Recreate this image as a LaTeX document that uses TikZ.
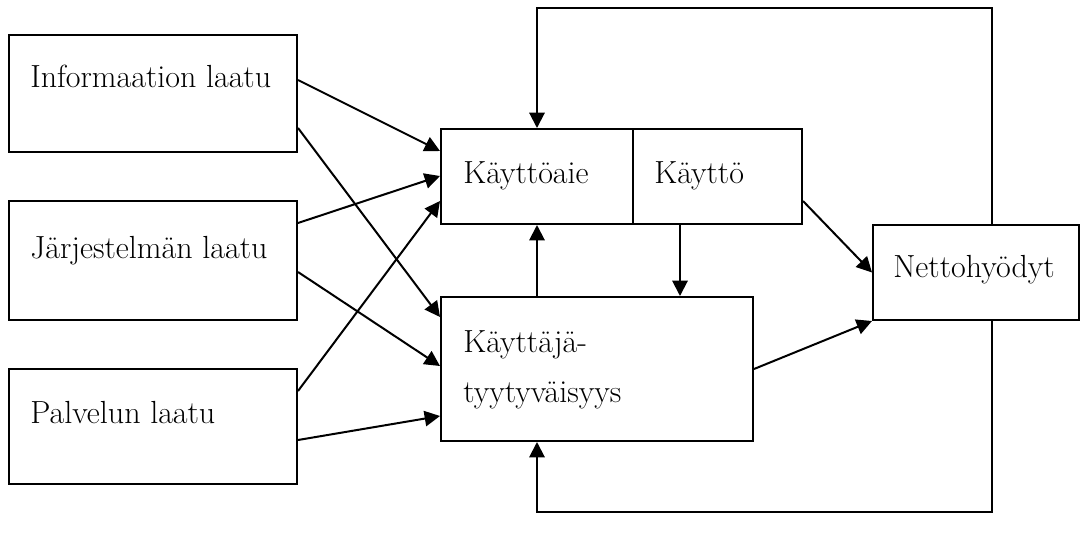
\documentclass[tikz,border=0pt]{standalone}
\usepackage{amsmath}
\usepackage{tikz}
\usetikzlibrary{arrows.meta,calc,fit}

\begin{document}
\begin{tikzpicture}[x=0.75pt,y=-0.75pt,
		box/.style={draw,line width=1.5pt,rectangle,inner sep=0pt},
		txt/.style={anchor=base west,inner sep=0pt,font=\fontsize{24}{28}\selectfont},
		arr/.style={-{Triangle[length=11.5pt,width=11.5pt]},line width=1.5pt}]
				\useasboundingbox (0,0) rectangle (1089,536);
				\node[box,fit={(9,35) (297,152)}] (info) {};
				\node[box,fit={(9,201) (297,320)}] (jarj) {};
				\node[box,fit={(9,369) (297,484)}] (palv) {};
				\node[box,fit={(441,129) (633,224)}] (aie) {};
				\node[box,fit={(633,129) (802,224)}] (kaytto) {};
				\node[box,fit={(441,297) (753,441)}] (tyyt) {};
				\node[box,fit={(873,225) (1079,320)}] (netto) {};
				\node[txt] (infot) at (30,87) {Informaation laatu};
				\node[txt] (jarjt) at (30,258) {Järjestelmän laatu};
				\node[txt] (palvt) at (30,423) {Palvelun laatu};
				\node[txt] (aiet) at (463,183) {Käyttöaie};
				\node[txt] (kayttot) at (654,183) {Käyttö};
				\node[txt] (tyyt1) at (463,352) {Käyttäjä-};
				\node[txt] (tyyt2) at (463,402) {tyytyväisyys};
				\node[txt] (nettot) at (893,277) {Nettohyödyt};
				\coordinate (loopT) at (0,8);
				\coordinate (loopB) at (0,512);
				\draw[arr] ($(info.north east)+(0,46)$) -- ($(aie.north west)+(0,23)$);
				\draw[arr] ($(info.north east)+(0,94)$) -- ($(tyyt.north west)+(0,21)$);
				\draw[arr] ($(jarj.north east)+(0,23)$) -- ($(aie.north west)+(0,48)$);
				\draw[arr] ($(jarj.north east)+(0,72)$) -- ($(tyyt.north west)+(0,70)$);
				\draw[arr] ($(palv.north east)+(0,23)$) -- ($(aie.north west)+(0,73)$);
				\draw[arr] ($(palv.north east)+(0,72)$) -- ($(tyyt.north west)+(0,120)$);
				\draw[arr] (tyyt.north -| aie.south) -- (aie.south);
				\draw[arr] ($(kaytto.south west)+(48,0)$) -- ($(tyyt.north west)+(240,0)$);
				\draw[arr] ($(kaytto.north east)+(0,73)$) -- (netto.west);
				\draw[arr] (tyyt.east) -- (netto.south west);
				\draw[arr] ($(netto.north west)+(120,0)$) |- (loopT -| aie.north) -- (aie.north);
				\draw[arr] ($(netto.south west)+(120,0)$) |- (loopB -| aie.south) -- (tyyt.south -| aie.south);
			\end{tikzpicture}
\end{document}
